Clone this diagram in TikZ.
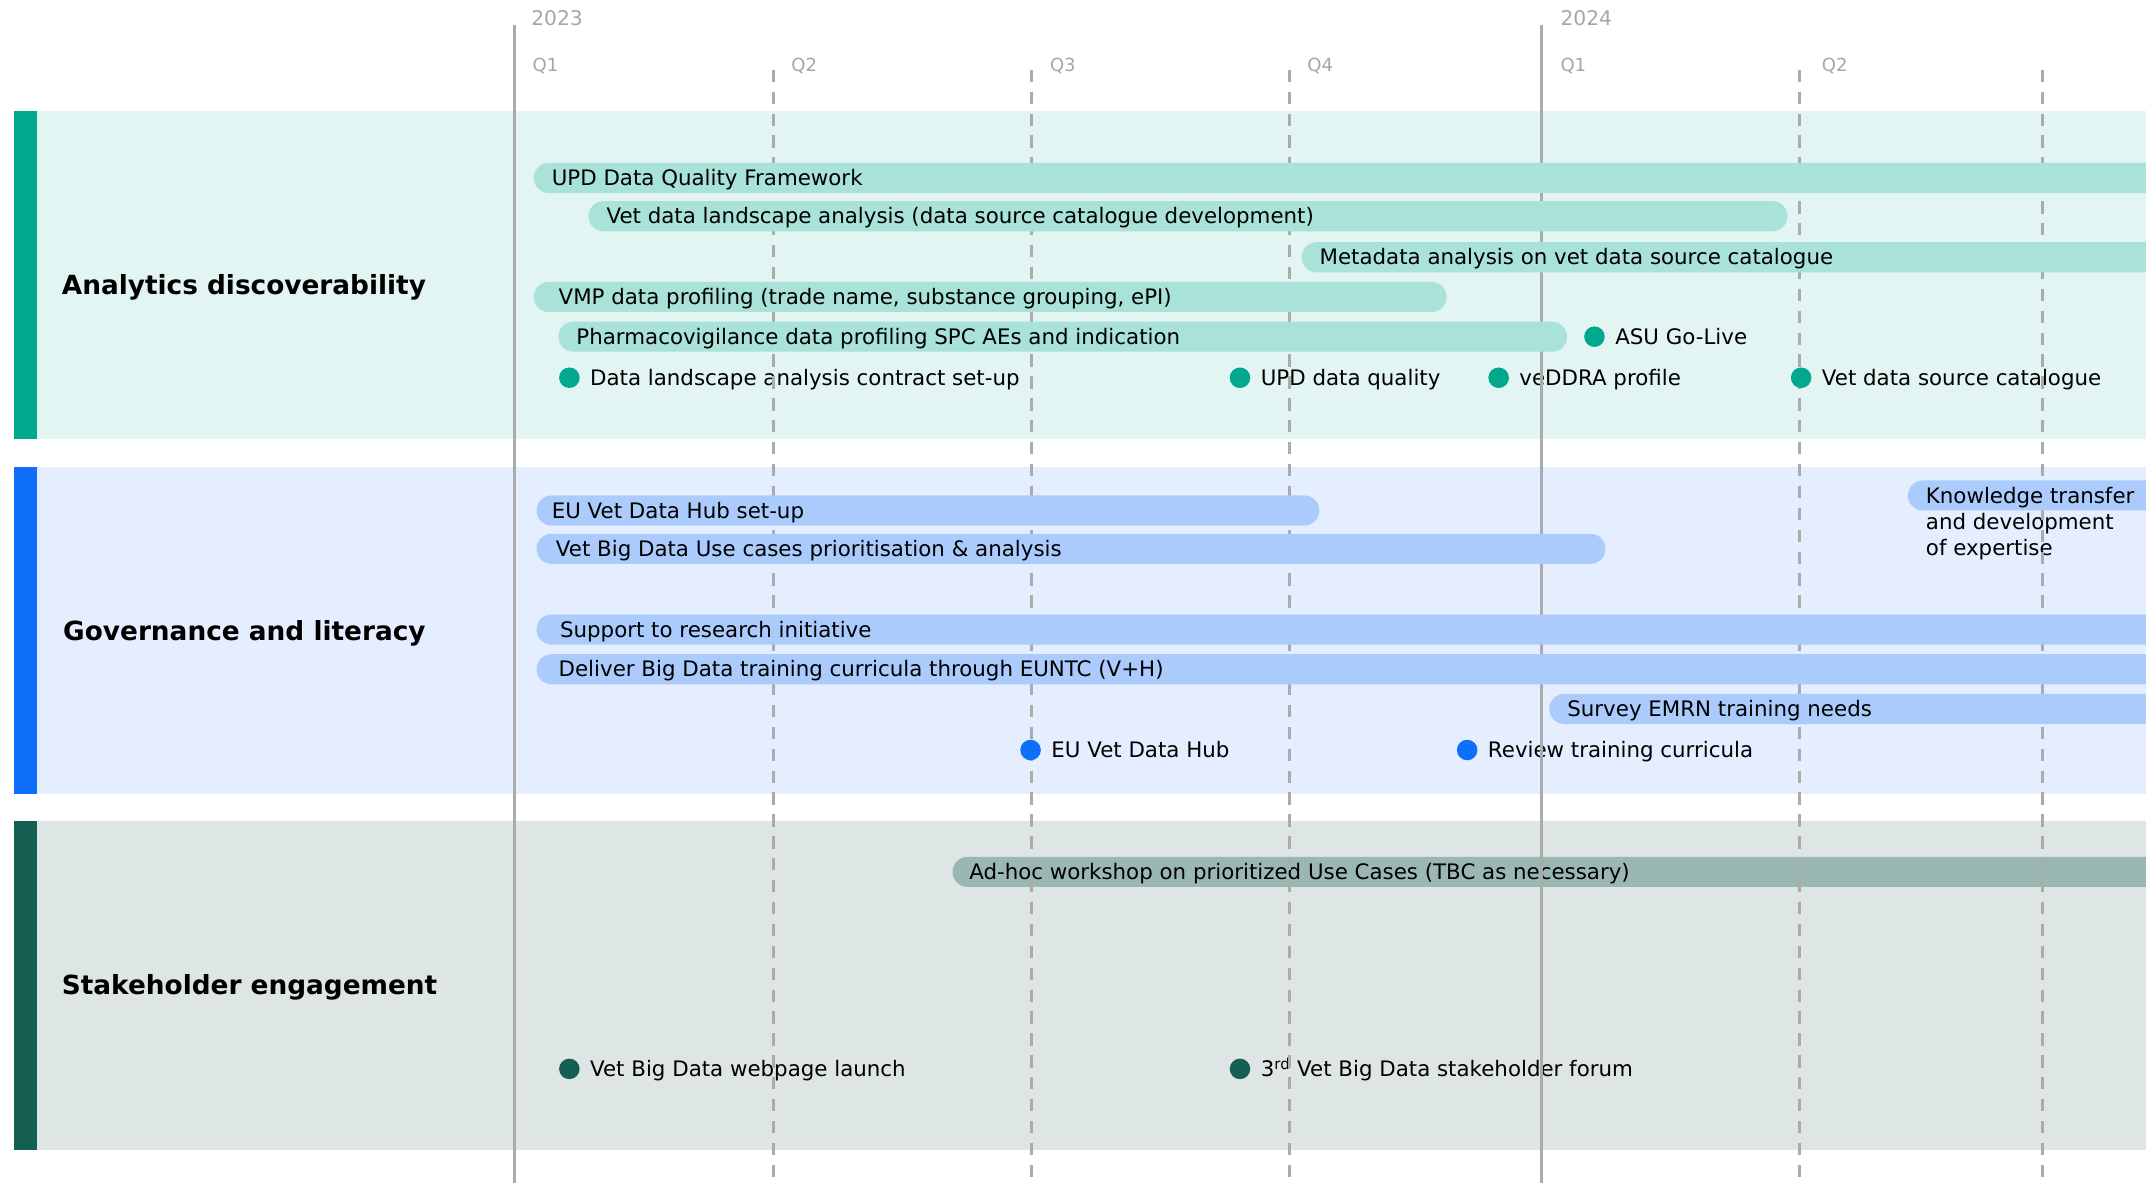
\documentclass[tikz,border=0pt]{standalone}
\usepackage{fontspec}
\setmainfont{DejaVu Sans}
\definecolor{bgA}{HTML}{E2F5F2}
\definecolor{accA}{HTML}{00A88E}
\definecolor{barA}{HTML}{A8E2D8}
\definecolor{bgB}{HTML}{E4EEFE}
\definecolor{accB}{HTML}{0F6EFA}
\definecolor{barB}{HTML}{ABCBFD}
\definecolor{bgC}{HTML}{DDE6E5}
\definecolor{accC}{HTML}{155E52}
\definecolor{barC}{HTML}{9BB7B1}
\definecolor{gridgray}{HTML}{ABABAB}
\definecolor{yeargray}{HTML}{A6A6A6}
\newcommand\mainsize{\fontsize{15.6}{18.6}\selectfont}
\newcommand\headsize{\fontsize{19.25}{22}\selectfont\bfseries}
\begin{document}
\begin{tikzpicture}[x=1pt,y=-1pt,
  lbl/.style={anchor=base west, inner sep=0pt, font=\mainsize, text=black},
  rowhead/.style={anchor=base west, inner sep=0pt, font=\headsize, text=black},
  yearlbl/.style={anchor=base west, inner sep=0pt, font=\fontsize{14.8}{16}\selectfont, text=yeargray},
  qlbl/.style={anchor=base west, inner sep=0pt, font=\fontsize{13.2}{15}\selectfont, text=yeargray},
  gridsolid/.style={draw=gridgray, line width=2.2pt},
  griddash/.style={draw=gridgray, line width=2.2pt, dash pattern=on 9pt off 7pt},
  msdot/.style={circle, fill=#1, minimum size=15pt, inner sep=0pt},
  barshape/.style={fill=#1, rounded corners=11pt}
]
\useasboundingbox (0,0) rectangle (1568,863.7);
\clip (0,0) rectangle (1568,863.7);

% row backgrounds
\fill[bgA] (10,81) rectangle (1570,321);
\fill[accA] (10,81) rectangle (27,321);
\fill[bgB] (10,341) rectangle (1570,580);
\fill[accB] (10,341) rectangle (27,580);
\fill[bgC] (10,600) rectangle (1570,840);
\fill[accC] (10,600) rectangle (27,840);

% row headings
\node[rowhead] (hA) at (45,215) {Analytics discoverability};
\node[rowhead] (hB) at (46,468) {Governance and literacy};
\node[rowhead] (hC) at (45,727) {Stakeholder engagement};

% time axis labels
\node[yearlbl] (y23) at (388,19) {2023};
\node[yearlbl] (y24) at (1140,19) {2024};
\node[qlbl] (q1a) at (389,52) {Q1};
\node[qlbl] (q2a) at (578,52) {Q2};
\node[qlbl] (q3a) at (767,52) {Q3};
\node[qlbl] (q4a) at (955,52) {Q4};
\node[qlbl] (q1b) at (1140,52) {Q1};
\node[qlbl] (q2b) at (1331,52) {Q2};

% row 3 bar (under grid lines)
\fill[barshape=barC] (696,626) rectangle (1600,648);
\node[lbl] (adhoc) at (708,642.6) {Ad-hoc workshop on prioritized Use Cases (TBC as necessary)};

% milestone texts
\node[lbl] (tA1) at (1180,251.6) {ASU Go-Live};
\node[lbl] (tA2) at (431,281.6) {Data landscape analysis contract set-up};
\node[lbl] (tA3) at (921,281.6) {UPD data quality};
\node[lbl] (tA4) at (1110,281.6) {veDDRA profile};
\node[lbl] (tA5) at (1331,281.6) {Vet data source catalogue};
\node[lbl] (tB1) at (768,553.6) {EU Vet Data Hub};
\node[lbl] (tB2) at (1087,553.6) {Review training curricula};
\node[lbl] (tC1) at (431,786.6) {Vet Big Data webpage launch};
\node[lbl] (tC2) at (921,786.6) {3\textsuperscript{rd} Vet Big Data stakeholder forum};
\node[lbl] (kt2) at (1407,386.6) {and development};
\node[lbl] (kt3) at (1407,405.6) {of expertise};

% grid lines
\coordinate (g1t) at (376,18);  \coordinate (g1b) at (376,870);
\coordinate (g5t) at (1126,18); \coordinate (g5b) at (1126,870);
\draw[gridsolid] (g1t) -- (g1b);
\draw[gridsolid] (g5t) -- (g5b);
\foreach \gx/\gn in {565/a,754/b,942/c,1315/d,1492/e}{
  \coordinate (d\gn t) at (\gx,51);
  \coordinate (d\gn b) at (\gx,870);
  \draw[griddash] (d\gn t) -- (d\gn b);
}

% milestone dots
\node[msdot=accA] (dA1) at (1165,246) {};
\node[msdot=accA] (dA2) at (416,276) {};
\node[msdot=accA] (dA3) at (906,276) {};
\node[msdot=accA] (dA4) at (1095,276) {};
\node[msdot=accA] (dA5) at (1316,276) {};
\node[msdot=accB] (dB1) at (753,548) {};
\node[msdot=accB] (dB2) at (1072,548) {};
\node[msdot=accC] (dC1) at (416,781) {};
\node[msdot=accC] (dC2) at (906,781) {};

% row 1 bars
\fill[barshape=barA] (390,119) rectangle (1600,141);
\node[lbl] (bA1) at (403,135.6) {UPD Data Quality Framework};
\fill[barshape=barA] (430,147) rectangle (1306,169);
\node[lbl] (bA2) at (443,163.6) {Vet data landscape analysis (data source catalogue development)};
\fill[barshape=barA] (951,177) rectangle (1600,199);
\node[lbl] (bA3) at (964,193.6) {Metadata analysis on vet data source catalogue};
\fill[barshape=barA] (390,206) rectangle (1057,228);
\node[lbl] (bA4) at (408,222.6) {VMP data profiling (trade name, substance grouping, ePI)};
\fill[barshape=barA] (408,235) rectangle (1145,257);
\node[lbl] (bA5) at (421,251.6) {Pharmacovigilance data profiling SPC AEs and indication};

% row 2 bars
\fill[barshape=barB] (1394,351) rectangle (1600,373);
\node[lbl] (kt1) at (1407,367.6) {Knowledge transfer};
\fill[barshape=barB] (392,362) rectangle (964,384);
\node[lbl] (bB1) at (403,378.6) {EU Vet Data Hub set-up};
\fill[barshape=barB] (392,390) rectangle (1173,412);
\node[lbl] (bB2) at (406,406.6) {Vet Big Data Use cases prioritisation \& analysis};
\fill[barshape=barB] (392,449) rectangle (1600,471);
\node[lbl] (bB3) at (409,465.6) {Support to research initiative};
\fill[barshape=barB] (392,478) rectangle (1600,500);
\node[lbl] (bB4) at (408,494.6) {Deliver Big Data training curricula through EUNTC (V+H)};
\fill[barshape=barB] (1132,507) rectangle (1600,529);
\node[lbl] (bB5) at (1145,523.6) {Survey EMRN training needs};
\end{tikzpicture}
\end{document}
